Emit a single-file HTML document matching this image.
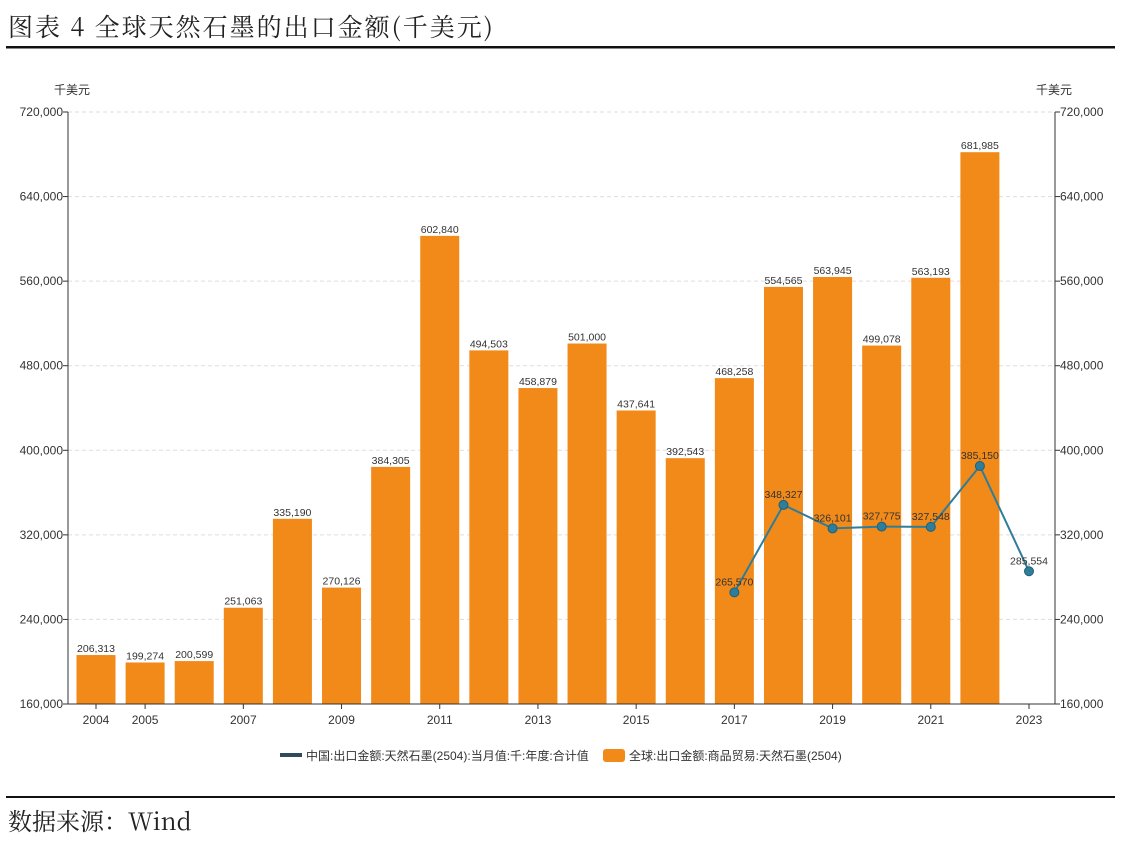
<!DOCTYPE html>
<html><head><meta charset="utf-8"><style>
body{margin:0;background:#fff;width:1127px;height:839px;overflow:hidden;font-family:"Liberation Sans","Noto Sans CJK SC",sans-serif}
</style></head><body>
<svg width="1127" height="839" xmlns="http://www.w3.org/2000/svg" font-family="Liberation Sans, Noto Sans CJK SC, sans-serif">
<text x="8" y="36" font-size="25" fill="#222" font-family="Noto Serif CJK SC, Noto Sans CJK SC, serif" letter-spacing="2">图表 4 全球天然石墨的出口金额(千美元)</text>
<rect x="6" y="46" width="1109" height="2.5" fill="#111"/>
<rect x="6" y="796" width="1109" height="2" fill="#111"/>
<text x="8" y="830" font-size="24" fill="#222" font-family="Noto Serif CJK SC, Liberation Mono, serif">数据来源：Wind</text>
<text x="54" y="94" font-size="12" fill="#333">千美元</text>
<text x="1036" y="94" font-size="12" fill="#333">千美元</text>
<g id="grid"></g><g id="bars"></g><g id="line"></g><g id="axes"></g>
<g>
<rect x="280" y="753" width="22" height="4" fill="#2f4a5a"/>
<text x="306" y="760" font-size="12" fill="#333">中国:出口金额:天然石墨(2504):当月值:千:年度:合计值</text>
<rect x="603" y="749" width="22" height="13" rx="3" fill="#f28a1a"/>
<text x="629" y="760" font-size="12" fill="#333">全球:出口金额:商品贸易:天然石墨(2504)</text>
</g>
</svg>
<script>
const years=['2004','2005','2006','2007','2008','2009','2010','2011','2012','2013','2014','2015','2016','2017','2018','2019','2020','2021','2022','2023'];
const globalVals=[206313,199274,200599,251063,335190,270126,384305,602840,494503,458879,501000,437641,392543,468258,554565,563945,499078,563193,681985,null];
const chinaVals=[null,null,null,null,null,null,null,null,null,null,null,null,null,265570,348327,326101,327775,327548,385150,285554];
const yTicks=[160000,240000,320000,400000,480000,560000,640000,720000];
const xLabels=['2004','2005','','2007','','2009','','2011','','2013','','2015','','2017','','2019','','2021','','2023'];
const NS='http://www.w3.org/2000/svg';
const L=68,R=1055,T=112,B=704,ymin=160000,ymax=720000;
const x0=96,step=(1029-96)/19;
const xs=i=>x0+i*step, ys=v=>B-(v-ymin)/(ymax-ymin)*(B-T);
const fmt=v=>v.toLocaleString('en-US');
function mk(tag,attrs,parent,txt){const e=document.createElementNS(NS,tag);for(const k in attrs)e.setAttribute(k,attrs[k]);if(txt!=null)e.textContent=txt;document.getElementById(parent).appendChild(e);return e;}
yTicks.forEach(v=>{const y=ys(v);
 if(v>ymin){const g=mk('line',{x1:L,x2:R,y1:y,y2:y,stroke:'#ddd','stroke-dasharray':'4,3'},'grid');
 
 }
 const t=mk('text',{x:L-5,y:y+4,'font-size':12,fill:'#333','text-anchor':'end'},'axes',fmt(v));
 
 
 const t2=mk('text',{x:R+5,y:y+4,'font-size':12,fill:'#333'},'axes',fmt(v));
 
 
 mk('line',{x1:L-5,x2:L,y1:y,y2:y,stroke:'#333'},'axes');
 mk('line',{x1:R,x2:R+5,y1:y,y2:y,stroke:'#333'},'axes');
});
mk('line',{x1:L,x2:L,y1:T,y2:B,stroke:'#333'},'axes');
mk('line',{x1:R,x2:R,y1:T,y2:B,stroke:'#333'},'axes');
mk('line',{x1:L,x2:R,y1:B,y2:B,stroke:'#333'},'axes');
xLabels.forEach((lab,i)=>{if(!lab)return;
 mk('line',{x1:xs(i),x2:xs(i),y1:B,y2:B+5,stroke:'#333'},'axes');
 const t=mk('text',{x:xs(i),y:B+20,'font-size':12,fill:'#333','text-anchor':'middle'},'axes',lab);
 
 
});
globalVals.forEach((v,i)=>{if(v==null)return;const y=ys(v);
 const r=mk('rect',{x:xs(i)-19.5,y:y,width:39,height:B-y,fill:'#f28a1a'},'bars');
 
 
 const t=mk('text',{x:xs(i),y:y-3,'font-size':10.5,fill:'#333','text-anchor':'middle'},'bars',fmt(v));
 
 
});
const pts=[];chinaVals.forEach((v,i)=>{if(v!=null)pts.push([xs(i),ys(v),v]);});
const pl=mk('polyline',{points:pts.map(p=>p[0]+','+p[1]).join(' '),fill:'none',stroke:'#2e7d9a','stroke-width':2},'line');


pts.forEach(p=>{const c=mk('circle',{cx:p[0],cy:p[1],r:4.5,fill:'#2e7d9a',stroke:'#1f5f78'},'line');
 
 
 const t=mk('text',{x:p[0],y:p[1]-7,'font-size':10.5,fill:'#333','text-anchor':'middle'},'line',fmt(p[2]));
 
 
});
</script>
</body></html>
